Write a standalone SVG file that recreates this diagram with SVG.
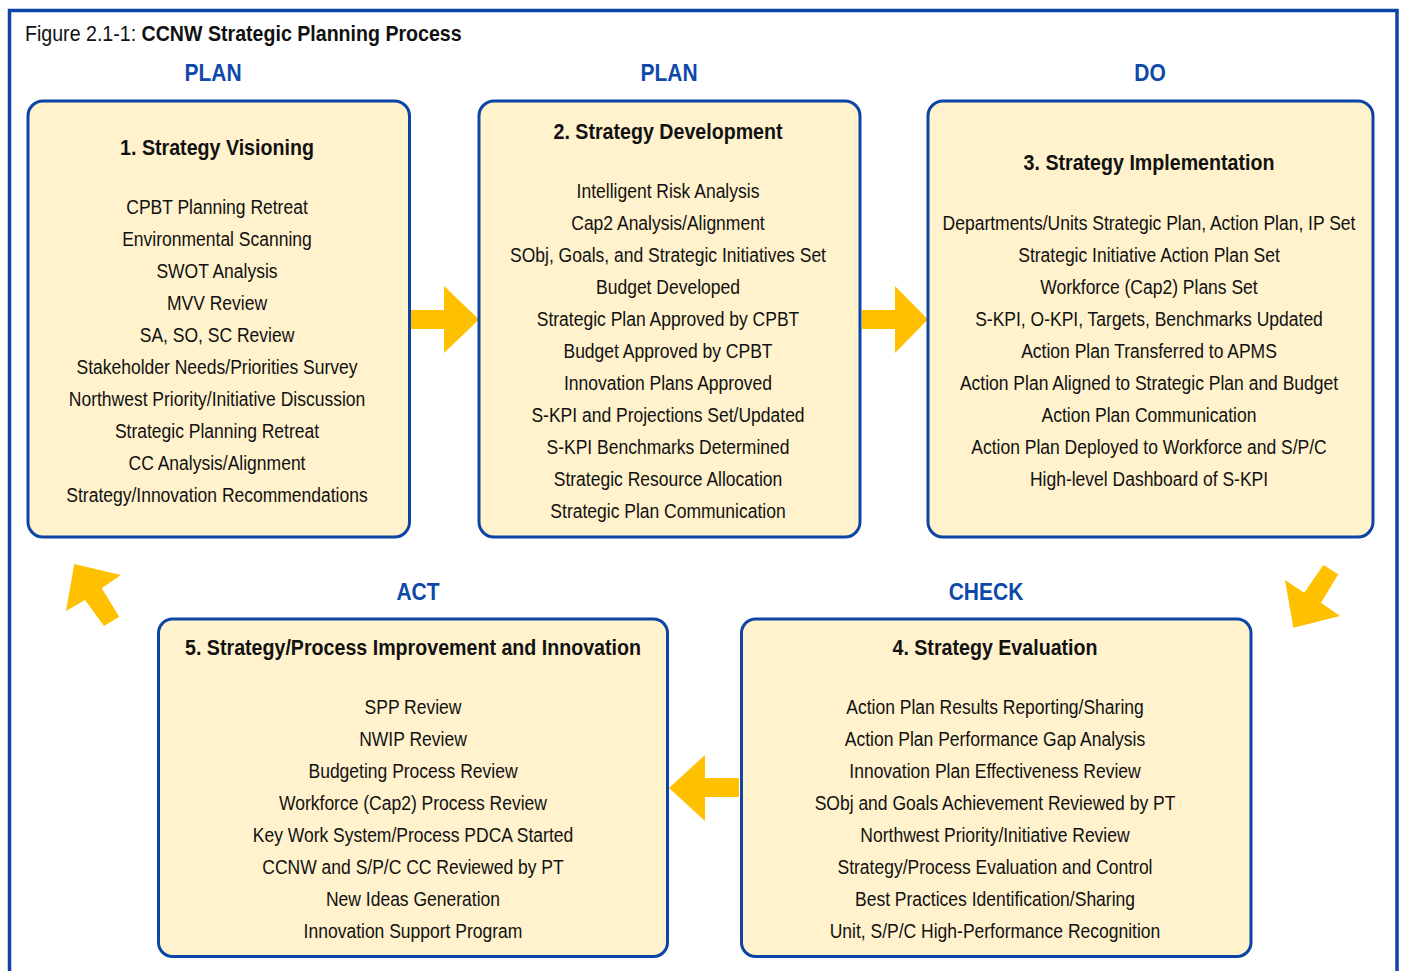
<svg xmlns="http://www.w3.org/2000/svg" width="1401" height="971" viewBox="0 0 1401 971">
<style>
text{font-family:"Liberation Sans",Arial,Helvetica,sans-serif;fill:#111;text-anchor:middle}
.item{font-size:20px}
.ttl{font-size:22px;font-weight:bold}
.phase{font-size:24px;font-weight:bold;fill:#0E49AA}
.box{fill:#FFF2CC;stroke:#0C45A6;stroke-width:3}
.arr{fill:#FFC000}
</style>
<rect x="9.5" y="10.5" width="1387.5" height="990" fill="#fff" stroke="#0C45A6" stroke-width="3.5"/>
<g transform="translate(25,0) scale(0.891,1)">
<text x="0" y="41" style="text-anchor:start;font-size:22px">Figure 2.1-1: <tspan font-weight="bold">CCNW Strategic Planning Process</tspan></text>
</g>
<g id="phase-labels">
<g transform="translate(213,0) scale(0.875,1)"><text class="phase" x="0" y="81">PLAN</text></g>
<g transform="translate(669,0) scale(0.875,1)"><text class="phase" x="0" y="81">PLAN</text></g>
<g transform="translate(1150,0) scale(0.875,1)"><text class="phase" x="0" y="81">DO</text></g>
<g transform="translate(418,0) scale(0.875,1)"><text class="phase" x="0" y="600">ACT</text></g>
<g transform="translate(986,0) scale(0.875,1)"><text class="phase" x="0" y="600">CHECK</text></g>
</g>
<g id="connectors">
<polygon class="arr" points="411,310 444,310 444,286 479,319.5 444,353 444,329 411,329"/>
<polygon class="arr" points="862,310 895,310 895,286 928,319.5 895,353 895,329 862,329"/>
<polygon class="arr" points="739,778 705,778 705,755 669,788 705,821 705,797 739,797"/>
<polygon class="arr" points="1323.3,565 1338.3,574.3 1321,602.7 1340,616 1293.3,627.7 1285,580 1304.3,592.7"/>
<polygon class="arr" points="74.3,564 121,575 101.7,588.3 119.3,616.7 104,626 85,600 66,611"/>
</g>
<g id="node1">
<rect class="box" x="28" y="101" width="381.5" height="436" rx="15"/>
<g transform="translate(217,0) scale(0.875,1)">
<text class="ttl" x="0" y="155" transform="scale(1.02,1)">1. Strategy Visioning</text>
<text class="item" x="0" y="214">CPBT Planning Retreat</text>
<text class="item" x="0" y="246">Environmental Scanning</text>
<text class="item" x="0" y="278">SWOT Analysis</text>
<text class="item" x="0" y="310">MVV Review</text>
<text class="item" x="0" y="342">SA, SO, SC Review</text>
<text class="item" x="0" y="374">Stakeholder Needs/Priorities Survey</text>
<text class="item" x="0" y="406">Northwest Priority/Initiative Discussion</text>
<text class="item" x="0" y="438">Strategic Planning Retreat</text>
<text class="item" x="0" y="470">CC Analysis/Alignment</text>
<text class="item" x="0" y="502">Strategy/Innovation Recommendations</text>
</g>
</g>
<g id="node2">
<rect class="box" x="479" y="101" width="381" height="436" rx="15"/>
<g transform="translate(668,0) scale(0.875,1)">
<text class="ttl" x="0" y="139" transform="scale(1.02,1)">2. Strategy Development</text>
<text class="item" x="0" y="198">Intelligent Risk Analysis</text>
<text class="item" x="0" y="230">Cap2 Analysis/Alignment</text>
<text class="item" x="0" y="262">SObj, Goals, and Strategic Initiatives Set</text>
<text class="item" x="0" y="294">Budget Developed</text>
<text class="item" x="0" y="326">Strategic Plan Approved by CPBT</text>
<text class="item" x="0" y="358">Budget Approved by CPBT</text>
<text class="item" x="0" y="390">Innovation Plans Approved</text>
<text class="item" x="0" y="422">S-KPI and Projections Set/Updated</text>
<text class="item" x="0" y="454">S-KPI Benchmarks Determined</text>
<text class="item" x="0" y="486">Strategic Resource Allocation</text>
<text class="item" x="0" y="518">Strategic Plan Communication</text>
</g>
</g>
<g id="node3">
<rect class="box" x="928" y="101" width="445" height="436" rx="15"/>
<g transform="translate(1149,0) scale(0.875,1)">
<text class="ttl" x="0" y="170" transform="scale(1.02,1)">3. Strategy Implementation</text>
<text class="item" x="0" y="230">Departments/Units Strategic Plan, Action Plan, IP Set</text>
<text class="item" x="0" y="262">Strategic Initiative Action Plan Set</text>
<text class="item" x="0" y="294">Workforce (Cap2) Plans Set</text>
<text class="item" x="0" y="326">S-KPI, O-KPI, Targets, Benchmarks Updated</text>
<text class="item" x="0" y="358">Action Plan Transferred to APMS</text>
<text class="item" x="0" y="390">Action Plan Aligned to Strategic Plan and Budget</text>
<text class="item" x="0" y="422">Action Plan Communication</text>
<text class="item" x="0" y="454">Action Plan Deployed to Workforce and S/P/C</text>
<text class="item" x="0" y="486">High-level Dashboard of S-KPI</text>
</g>
</g>
<g id="node4">
<rect class="box" x="741.5" y="619" width="509.5" height="337.5" rx="14"/>
<g transform="translate(995,0) scale(0.875,1)">
<text class="ttl" x="0" y="655" transform="scale(1.02,1)">4. Strategy Evaluation</text>
<text class="item" x="0" y="714">Action Plan Results Reporting/Sharing</text>
<text class="item" x="0" y="746">Action Plan Performance Gap Analysis</text>
<text class="item" x="0" y="778">Innovation Plan Effectiveness Review</text>
<text class="item" x="0" y="810">SObj and Goals Achievement Reviewed by PT</text>
<text class="item" x="0" y="842">Northwest Priority/Initiative Review</text>
<text class="item" x="0" y="874">Strategy/Process Evaluation and Control</text>
<text class="item" x="0" y="906">Best Practices Identification/Sharing</text>
<text class="item" x="0" y="938">Unit, S/P/C High-Performance Recognition</text>
</g>
</g>
<g id="node5">
<rect class="box" x="158.5" y="619" width="509" height="337.5" rx="14"/>
<g transform="translate(413,0) scale(0.875,1)">
<text class="ttl" x="0" y="655" transform="scale(1.02,1)">5. Strategy/Process Improvement and Innovation</text>
<text class="item" x="0" y="714">SPP Review</text>
<text class="item" x="0" y="746">NWIP Review</text>
<text class="item" x="0" y="778">Budgeting Process Review</text>
<text class="item" x="0" y="810">Workforce (Cap2) Process Review</text>
<text class="item" x="0" y="842">Key Work System/Process PDCA Started</text>
<text class="item" x="0" y="874">CCNW and S/P/C CC Reviewed by PT</text>
<text class="item" x="0" y="906">New Ideas Generation</text>
<text class="item" x="0" y="938">Innovation Support Program</text>
</g>
</g>
</svg>
